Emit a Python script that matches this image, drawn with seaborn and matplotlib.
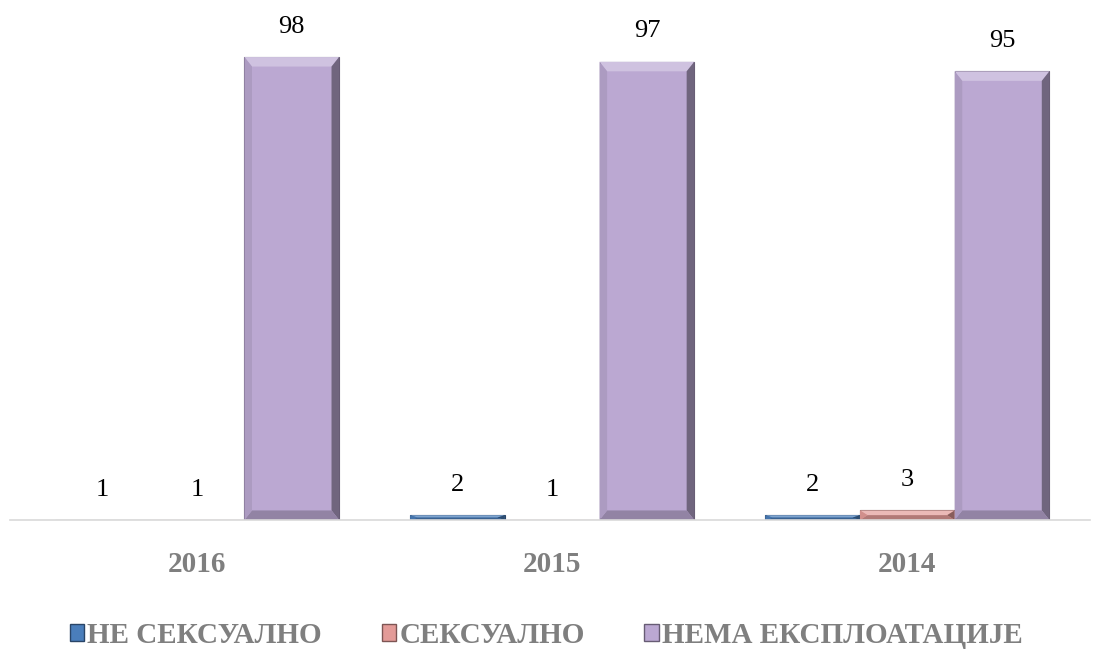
import pandas as pd
import matplotlib
matplotlib.use("Agg")
import matplotlib.pyplot as plt
import matplotlib.colors as mcolors
from matplotlib.patches import Polygon
import seaborn as sns

years = ["2016", "2015", "2014"]
series = ["НЕ СЕКСУАЛНО", "СЕКСУАЛНО", "НЕМА ЕКСПЛОАТАЦИЈЕ"]
ne_seksualno = [1, 2, 2]
seksualno = [1, 1, 3]
nema_eksploatacije = [98, 97, 95]

colors = ["#4a7ebb", "#e39b98", "#bba8d2"]

df = pd.DataFrame({
    "year": years * 3,
    "value": ne_seksualno + seksualno + nema_eksploatacije,
    "series": [s for s in series for _ in years],
})


def shade(c, f):
    r, g, b = mcolors.to_rgb(c)
    if f >= 0:
        return (r + (1 - r) * f, g + (1 - g) * f, b + (1 - b) * f)
    return (r * (1 + f), g * (1 + f), b * (1 + f))


sns.set_theme(style="white")
plt.rcParams["font.family"] = ["Liberation Serif", "DejaVu Serif"]

fig = plt.figure(figsize=(10.99, 6.53), dpi=100)
ax = fig.add_axes([0.009, 0.2037, 0.983, 0.7236])

sns.barplot(data=df, x="year", y="value", hue="series", order=years,
            hue_order=series, palette=colors, width=0.8, ax=ax,
            saturation=1, legend=False)

ax.set_ylim(1, 100)
ax.set_xlim(-0.527, 2.515)
ybot = ax.get_ylim()[0]

# bevelled look of the bars
for cont, c in zip(ax.containers, colors):
    for p in cont:
        p.set_edgecolor(shade(c, -0.45))
        p.set_linewidth(0.8)
        x0, w, top = p.get_x(), p.get_width(), p.get_height()
        if top <= ybot:
            continue
        bx = w * 0.08
        by = min(2.0, (top - ybot) / 2)
        x1 = x0 + w
        faces = [
            ([(x0, top), (x1, top), (x1 - bx, top - by), (x0 + bx, top - by)], shade(c, 0.3)),
            ([(x1, top), (x1, ybot), (x1 - bx, ybot + by), (x1 - bx, top - by)], shade(c, -0.4)),
            ([(x0, ybot), (x1, ybot), (x1 - bx, ybot + by), (x0 + bx, ybot + by)], shade(c, -0.22)),
            ([(x0, top), (x0, ybot), (x0 + bx, ybot + by), (x0 + bx, top - by)], shade(c, -0.08)),
        ]
        for pts, fc in faces:
            ax.add_patch(Polygon(pts, closed=True, facecolor=fc, edgecolor="none",
                                 zorder=p.get_zorder() + 0.1))
    ax.bar_label(cont, labels=[f"{v:g}" for v in cont.datavalues],
                 padding=14, fontsize=19, color="black", clip_on=False)

ax.set_xlabel("")
ax.set_ylabel("")
ax.set_yticks([])
for s in ["top", "right", "left"]:
    ax.spines[s].set_visible(False)
ax.spines["bottom"].set_color("#d9d9d9")
ax.spines["bottom"].set_linewidth(1.2)
ax.tick_params(axis="x", length=0, pad=22)
for t in ax.get_xticklabels():
    t.set_fontsize(21)
    t.set_fontweight("bold")
    t.set_color("#7f7f7f")

handles = [plt.Rectangle((0, 0), 1, 1, facecolor=c, edgecolor=shade(c, -0.45), linewidth=1)
           for c in colors]
leg = fig.legend(handles, series, loc="center", bbox_to_anchor=(0.497, 0.027),
                 ncol=3, frameon=False, handlelength=0.5, handleheight=0.5,
                 handletextpad=0.1, columnspacing=2.05,
                 prop={"size": 21, "weight": "bold"})
for t in leg.get_texts():
    t.set_color("#7f7f7f")

fig.savefig("out.png", dpi=100)
